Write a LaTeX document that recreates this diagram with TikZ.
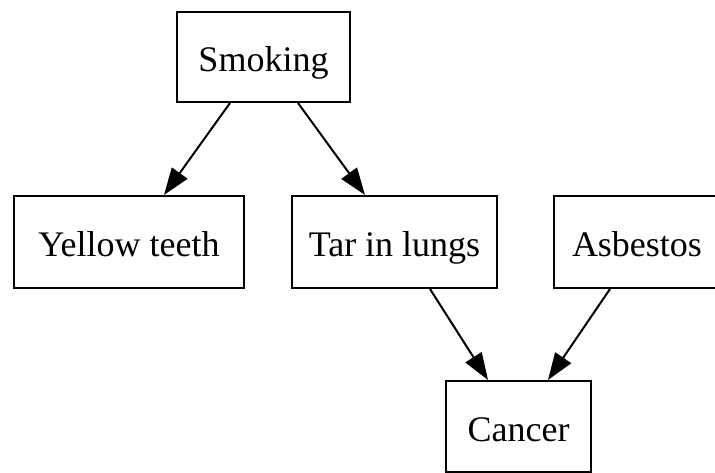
\documentclass[tikz,border=0pt]{standalone}
\usepackage{fontspec}
\setmainfont{Liberation Serif}
\usetikzlibrary{arrows.meta,calc}
\begin{document}
\begin{tikzpicture}[x=1pt,y=1pt,
  box/.style={draw,line width=2pt,rectangle,inner sep=0pt,text height=34pt,text depth=4pt,font=\fontsize{36}{40}\selectfont},
  edge/.style={line width=2pt,-{Triangle[length=27pt,width=19pt]}}]
\useasboundingbox (0,0) rectangle (715,473);
\clip (0,0) rectangle (715,473);
\node[box,minimum width=173pt,minimum height=90pt] (smoking) at (263.5,416) {Smoking};
\node[box,minimum width=230pt,minimum height=92pt] (yellow) at (129,231) {Yellow teeth};
\node[box,minimum width=205pt,minimum height=92pt] (tar) at (394.5,231) {Tar in lungs};
\node[box,minimum width=166pt,minimum height=92pt] (asb) at (637,231) {Asbestos};
\node[box,minimum width=145pt,minimum height=91pt] (cancer) at (518.5,46.5) {Cancer};
\draw[edge] ($(smoking.south)+(-33.5,0)$) -- ($(yellow.north)+(35,0)$);
\draw[edge] ($(smoking.south)+(34.5,0)$) -- ($(tar.north)+(-29.5,0)$);
\draw[edge] ($(tar.south)+(35.5,0)$) -- ($(cancer.north)+(-30.5,0)$);
\draw[edge] ($(asb.south)+(-27,0)$) -- ($(cancer.north)+(29.5,0)$);
\end{tikzpicture}
\end{document}
